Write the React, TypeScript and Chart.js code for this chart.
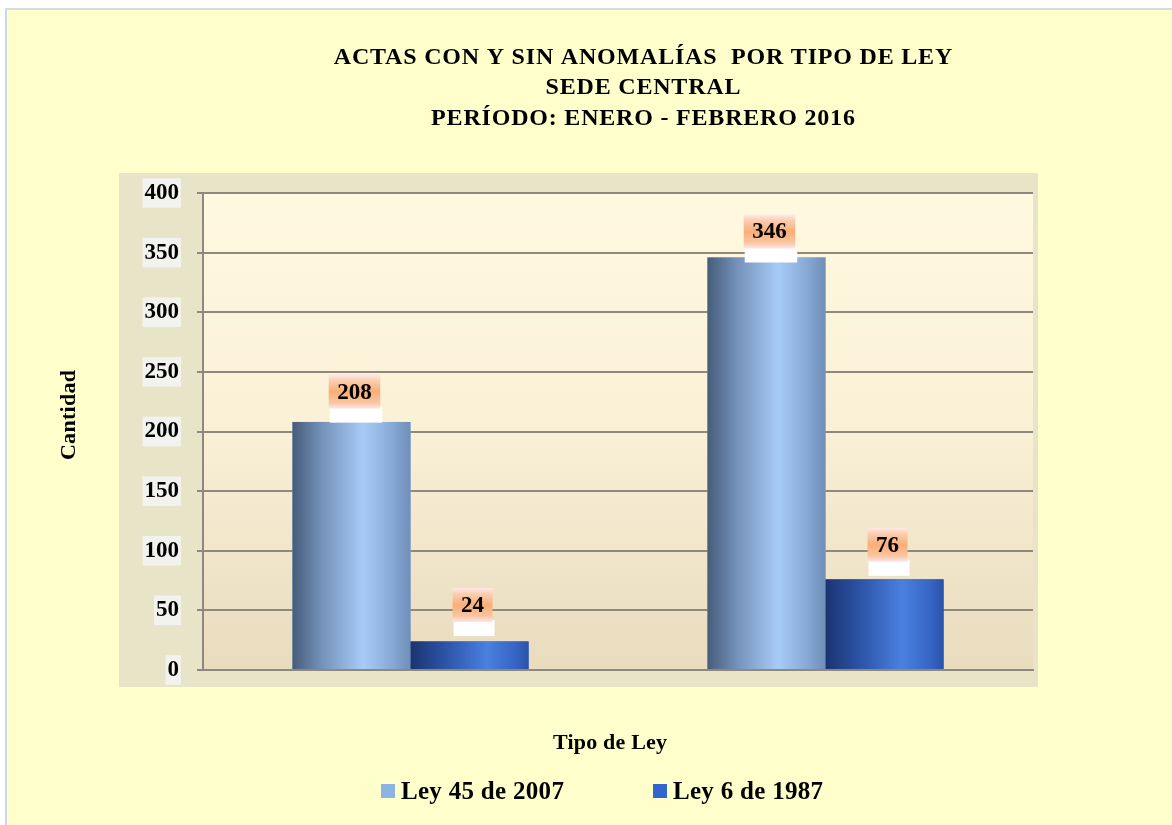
import React, { useEffect, useRef } from "react";
import { Chart, registerables } from "chart.js";

Chart.register(...registerables);

const TITLE_LINES = [
  "ACTAS CON Y SIN ANOMALÍAS  POR TIPO DE LEY",
  "SEDE CENTRAL",
  "PERÍODO: ENERO - FEBRERO 2016",
];
const CATEGORIES = ["Grupo 1", "Grupo 2"];
const SERIES_NAMES = ["Ley 45 de 2007", "Ley 6 de 1987"];
const LEY45_VALUES = [208, 346];
const LEY6_VALUES = [24, 76];
const Y_MIN = 0;
const Y_MAX = 400;
const Y_STEP = 50;
const X_TITLE = "Tipo de Ley";
const Y_TITLE = "Cantidad";

const FONT = "'Liberation Serif', 'Times New Roman', serif";
const LEGEND_COLORS = ["#8DB3E2", "#3366CC"];
const BAR_STOPS = [
  [
    [0, "#465C7B"],
    [0.25, "#7492BA"],
    [0.6, "#A7CBF7"],
    [0.85, "#86A8D4"],
    [1, "#6F8EB8"],
  ],
  [
    [0, "#1B3470"],
    [0.3, "#2D54A8"],
    [0.65, "#4A80E0"],
    [0.9, "#3563C2"],
    [1, "#2A52A8"],
  ],
];

function spacedText(ctx: any, text: string, x: number, y: number, spacing: number) {
  ctx.letterSpacing = `${spacing}px`;
  const w = ctx.measureText(text).width;
  const align = ctx.textAlign;
  if (align === "center") {
    ctx.textAlign = "left";
    ctx.fillText(text, x - (w - spacing) / 2, y);
    ctx.textAlign = "center";
  } else {
    ctx.fillText(text, x, y);
  }
  ctx.letterSpacing = "0px";
}

const decorPlugin = {
  id: "decor",
  beforeDraw(chart: any) {
    const { ctx, chartArea: a, width, height } = chart;
    ctx.save();
    ctx.fillStyle = "#FFFFFF";
    ctx.fillRect(0, 0, width, height);
    ctx.fillStyle = "#FFFFCC";
    ctx.fillRect(6, 9, width, height);
    ctx.fillStyle = "#C6D9F1";
    ctx.fillRect(5, 8, 2, height);
    ctx.fillStyle = "#D2DEE0";
    ctx.fillRect(5, 8, width, 2);
    ctx.fillStyle = "#E8E4C7";
    ctx.fillRect(a.left - 84, a.top - 20, a.right - a.left + 89, a.bottom - a.top + 37);
    const g = ctx.createLinearGradient(0, a.top, 0, a.bottom);
    g.addColorStop(0, "#FFF9E0");
    g.addColorStop(0.5, "#FAF0D6");
    g.addColorStop(1, "#E8DBBE");
    ctx.fillStyle = g;
    ctx.fillRect(a.left, a.top, a.right - a.left, a.bottom - a.top);
    ctx.restore();
  },
  afterDatasetsDraw(chart: any) {
    const { ctx } = chart;
    ctx.save();
    chart.data.datasets.forEach((ds: any, di: number) => {
      const meta = chart.getDatasetMeta(di);
      meta.data.forEach((el: any) => {
        const { x, y, base, width } = el.getProps(["x", "y", "base", "width"], true);
        const left = x - width / 2;
        const g = ctx.createLinearGradient(left, 0, left + width, 0);
        BAR_STOPS[di].forEach(([o, c]: any) => g.addColorStop(o, c));
        ctx.fillStyle = g;
        ctx.fillRect(left, y, width, base - y);
      });
    });
    chart.data.datasets.forEach((ds: any, di: number) => {
      const meta = chart.getDatasetMeta(di);
      meta.data.forEach((el: any, i: number) => {
        const { x, y, base } = el.getProps(["x", "y", "base"], true);
        const text = String(ds.data[i]);
        ctx.font = `bold 23px ${FONT}`;
        const w = ctx.measureText(text).width + 17;
        const cx = x + 3;
        const off = 54 - (base - y) * 0.027;
        const top = y - off;
        const h = 34;
        ctx.fillStyle = "#FFFFFF";
        ctx.fillRect(cx - w / 2 + 1, top + h - 2, w + 1, 16);
        const g = ctx.createLinearGradient(0, top, 0, top + h);
        g.addColorStop(0, "#FDE8EA");
        g.addColorStop(0.18, "#FBCDAE");
        g.addColorStop(0.5, "#F8AE78");
        g.addColorStop(0.82, "#FBC59F");
        g.addColorStop(1, "#FDE6EA");
        ctx.fillStyle = g;
        ctx.fillRect(cx - w / 2, top, w, h);
        ctx.fillStyle = "#000000";
        ctx.textAlign = "center";
        ctx.textBaseline = "middle";
        ctx.fillText(text, cx, top + h / 2 + 1);
      });
    });
    ctx.restore();
  },
  afterDraw(chart: any) {
    const { ctx } = chart;
    ctx.save();
    ctx.fillStyle = "#000000";
    ctx.textAlign = "center";
    ctx.textBaseline = "middle";
    ctx.font = `bold 24px ${FONT}`;
    const ys = [58, 88, 119];
    TITLE_LINES.forEach((t, i) => spacedText(ctx, t, 643, ys[i], 0.8));
    ctx.font = `bold 22px ${FONT}`;
    spacedText(ctx, X_TITLE, 610, 743, 0.2);
    ctx.save();
    ctx.translate(69, 415);
    ctx.rotate(-Math.PI / 2);
    spacedText(ctx, Y_TITLE, 0, 0, 0.3);
    ctx.restore();
    ctx.font = `bold 25px ${FONT}`;
    ctx.textAlign = "left";
    const lx = [381, 653];
    SERIES_NAMES.forEach((n, i) => {
      ctx.fillStyle = LEGEND_COLORS[i];
      ctx.fillRect(lx[i], 784, 14, 14);
      ctx.fillStyle = "#000000";
      spacedText(ctx, n, lx[i] + 20, 793, 0.3);
    });
    ctx.restore();
  },
};

export default function App() {
  const ref = useRef<HTMLCanvasElement | null>(null);
  useEffect(() => {
    document.body.style.margin = "0";
    const canvas = ref.current!;
    const gridColor = "#8F887C";
    const chart = new Chart(canvas, {
      type: "bar",
      data: {
        labels: CATEGORIES,
        datasets: [
          { label: SERIES_NAMES[0], data: LEY45_VALUES, backgroundColor: LEGEND_COLORS[0] },
          { label: SERIES_NAMES[1], data: LEY6_VALUES, backgroundColor: LEGEND_COLORS[1] },
        ],
      },
      options: {
        responsive: false,
        animation: false,
        devicePixelRatio: 1,
        datasets: { bar: { categoryPercentage: 0.569, barPercentage: 1 } },
        layout: { padding: { top: 193, right: 139, bottom: 155, left: 0 } },
        plugins: { legend: { display: false }, title: { display: false }, tooltip: { enabled: false } },
        scales: {
          x: {
            ticks: { display: false },
            grid: { display: false, drawTicks: false },
            border: { display: true, color: gridColor, width: 2 },
            afterFit: (s: any) => {
              s.height = 0;
              s.paddingLeft = 0;
              s.paddingRight = 0;
            },
          },
          y: {
            min: Y_MIN,
            max: Y_MAX,
            ticks: {
              stepSize: Y_STEP,
              color: "#000000",
              font: { family: FONT, size: 23, weight: "bold" },
              padding: 18,
              showLabelBackdrop: true,
              backdropColor: "#F2F2EE",
              backdropPadding: { x: 2, y: 1 },
            },
            grid: { color: gridColor, lineWidth: 2, tickLength: 6, tickColor: gridColor },
            border: { display: true, color: gridColor, width: 2 },
            afterFit: (s: any) => {
              s.width = 203;
              s.paddingTop = 0;
              s.paddingBottom = 0;
            },
          },
        },
      },
      plugins: [decorPlugin],
    } as any);
    return () => chart.destroy();
  }, []);
  return (
    <div style={{ width: 1172, height: 825 }}>
      <canvas ref={ref} width={1172} height={825} style={{ display: "block", width: 1172, height: 825 }} />
    </div>
  );
}
